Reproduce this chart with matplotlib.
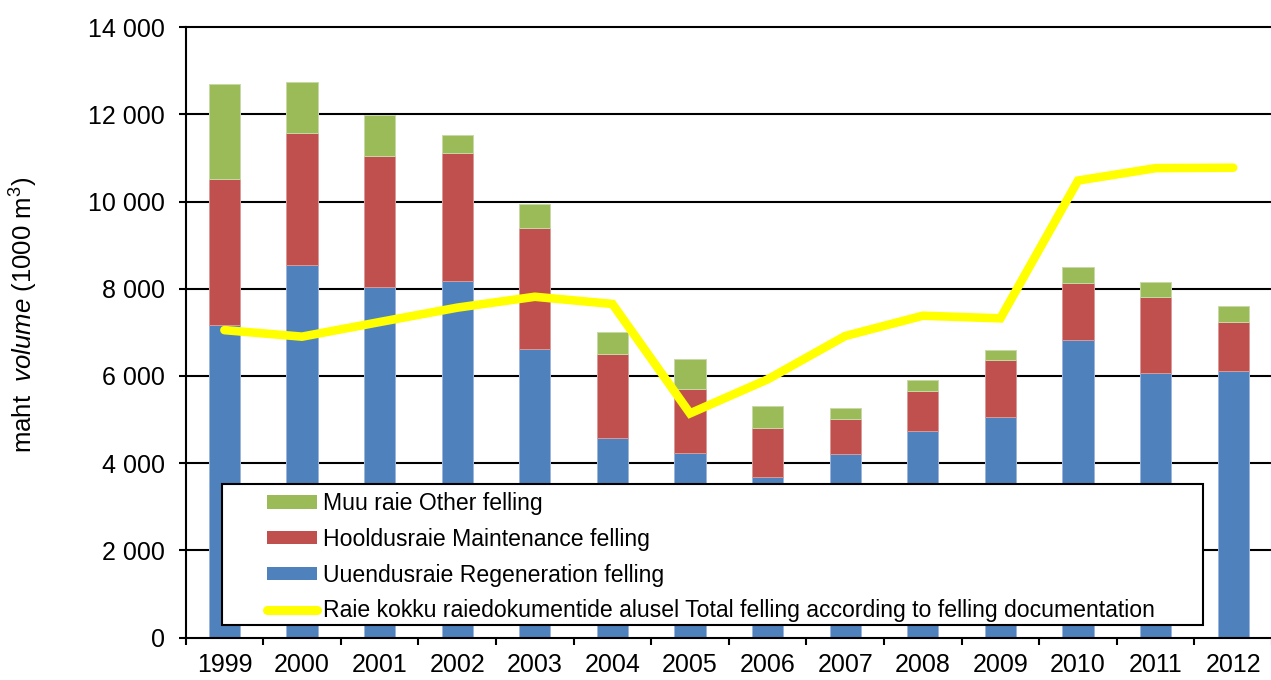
import matplotlib
matplotlib.use("Agg")
import matplotlib.pyplot as plt
from matplotlib.patches import Patch, Rectangle
from matplotlib.lines import Line2D
from matplotlib.ticker import FuncFormatter, FixedLocator
import numpy as np

plt.rcParams['font.family'] = ['Liberation Sans', 'DejaVu Sans']
plt.rcParams['mathtext.fontset'] = 'custom'
plt.rcParams['mathtext.rm'] = 'Liberation Sans'
plt.rcParams['mathtext.it'] = 'Liberation Sans:italic'

years = ['1999', '2000', '2001', '2002', '2003', '2004', '2005', '2006',
         '2007', '2008', '2009', '2010', '2011', '2012']
regeneration = [7160, 8540, 8030, 8185, 6610, 4575, 4225, 3675, 4200, 4730, 5050, 6820, 6070, 6110]
maintenance_top = [10510, 11565, 11035, 11120, 9385, 6510, 5705, 4800, 5020, 5660, 6375, 8140, 7815, 7245]
other_top = [12695, 12740, 11980, 11525, 9945, 7005, 6380, 5310, 5265, 5905, 6595, 8495, 8150, 7610]
total_docs = [7050, 6900, 7235, 7565, 7815, 7650, 5140, 5920, 6915, 7380, 7320, 10480, 10765, 10775]

maintenance = [t - b for t, b in zip(maintenance_top, regeneration)]
other = [t - m for t, m in zip(other_top, maintenance_top)]

labels = ['Muu raie Other felling',
          'Hooldusraie Maintenance felling',
          'Uuendusraie Regeneration felling',
          'Raie kokku raiedokumentide alusel Total felling according to felling documentation']

c_blue = '#4F81BD'
c_red = '#C0504D'
c_green = '#9BBB59'
c_yellow = '#FFFF00'

W, H = 1271, 680
fig = plt.figure(figsize=(W / 100, H / 100), dpi=100)
ax = fig.add_axes([185.6 / W, 42.5 / H, (1272 - 185.6) / W, 610.4 / H])

x = np.arange(len(years))
bw = 0.4
ax.bar(x, regeneration, bw, color=c_blue, edgecolor='#9DB5DA', linewidth=0.7, zorder=3)
ax.bar(x, maintenance, bw, bottom=regeneration, color=c_red, edgecolor='#D99A98', linewidth=0.7, zorder=3)
ax.bar(x, other, bw, bottom=maintenance_top, color=c_green, edgecolor='#C6D9A6', linewidth=0.7, zorder=3)
ax.plot(x, total_docs, color=c_yellow, lw=6.2, solid_capstyle='round',
        solid_joinstyle='miter', zorder=4)

ax.set_xlim(-0.5, len(years) - 0.5)
ax.set_ylim(0, 14000)
yt = np.arange(0, 14001, 2000)
ax.set_yticks(yt)
ax.yaxis.set_major_formatter(FuncFormatter(lambda v, p: f"{v:,.0f}".replace(",", " ")))
for v in yt[1:]:
    ax.axhline(v, color='black', lw=1.5, zorder=1, clip_on=False)

ax.set_xticks(x)
ax.set_xticklabels(years)
ax.xaxis.set_minor_locator(FixedLocator(np.arange(-0.5, len(years), 1.0)))
ax.tick_params(axis='x', which='major', length=0, pad=11.5, labelsize=18)
ax.tick_params(axis='x', which='minor', length=5, width=1.5, direction='out')
ax.tick_params(axis='y', which='major', length=5, width=1.5, direction='out', pad=10, labelsize=18)

for s in ['top', 'right']:
    ax.spines[s].set_visible(False)
for s in ['left', 'bottom']:
    ax.spines[s].set_linewidth(1.5)
    ax.spines[s].set_zorder(5)

fig.text(24 / W, 1 - 315 / H, r"maht  $\it{volume}$ (1000 m$^3$)", rotation=90,
         ha='center', va='center', fontsize=18.5)

# legend frame
rect = Rectangle((222 / W, 1 - 625 / H), (1203 - 222) / W, (625 - 484) / H,
                 transform=fig.transFigure, facecolor='white', edgecolor='black',
                 lw=1.5, zorder=6)
ax.add_artist(rect)
rect.set_clip_on(False)

handles = [Patch(facecolor=c_green), Patch(facecolor=c_red), Patch(facecolor=c_blue),
           Line2D([0], [0], color=c_yellow, lw=6.5, solid_capstyle='round')]
fs = 16.6
fpx = fs * 100 / 72
leg = ax.legend(handles, labels, loc='upper left',
                bbox_to_anchor=(267 / W, 1 - 492.2 / H), bbox_transform=fig.transFigure,
                frameon=False, fontsize=fs, borderpad=0, borderaxespad=0,
                handlelength=50 / fpx, handleheight=11.7 / fpx, handletextpad=6 / fpx,
                labelspacing=0.55)
leg.set_zorder(7)

fig.savefig('out.png', dpi=100)
